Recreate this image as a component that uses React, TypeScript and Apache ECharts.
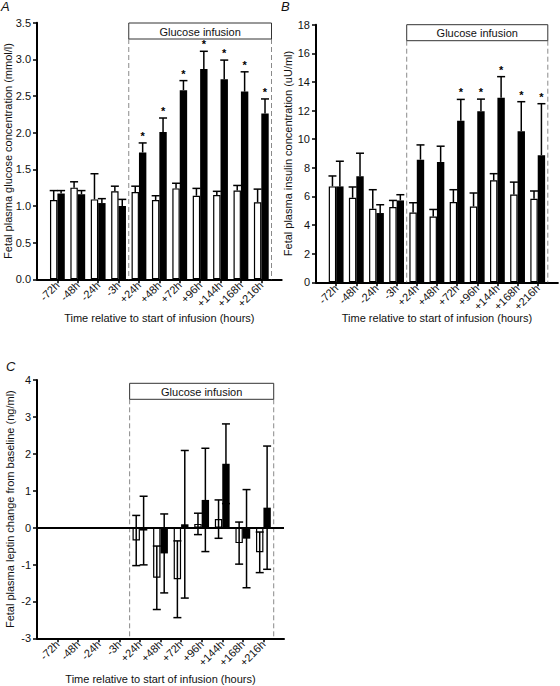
import React, { useEffect, useRef } from 'react';
import * as echarts from 'echarts';

const timeLabels = ['-72h', '-48h', '-24h', '-3h', '+24h', '+48h', '+72h', '+96h', '+144h', '+168h', '+216h'];

// Panel A: glucose (mmol/l)
const glucoseControl = [1.08, 1.25, 1.09, 1.2, 1.19, 1.08, 1.24, 1.14, 1.15, 1.21, 1.05];
const glucoseControlSem = [0.13, 0.08, 0.35, 0.07, 0.08, 0.06, 0.07, 0.1, 0.05, 0.07, 0.18];
const glucoseInfused = [1.17, 1.16, 1.04, 1.0, 1.73, 2.01, 2.58, 2.87, 2.73, 2.56, 2.26];
const glucoseInfusedSem = [0.04, 0.05, 0.06, 0.09, 0.13, 0.19, 0.13, 0.24, 0.26, 0.27, 0.2];
const glucoseStars = [0, 0, 0, 0, 1, 1, 1, 1, 1, 1, 1];

// Panel B: insulin (uU/ml)
const insulinControl = [6.7, 5.91, 5.14, 5.26, 4.88, 4.6, 5.61, 5.3, 7.13, 6.14, 5.84];
const insulinControlSem = [0.73, 0.75, 1.33, 0.46, 0.68, 0.49, 0.86, 0.94, 0.46, 0.86, 0.54];
const insulinInfused = [6.7, 7.41, 4.84, 5.72, 8.57, 8.41, 11.28, 11.96, 12.9, 10.56, 8.88];
const insulinInfusedSem = [1.76, 1.61, 0.58, 0.4, 1.03, 1.1, 1.5, 0.84, 1.47, 2.06, 3.6];
const insulinStars = [0, 0, 0, 0, 0, 0, 1, 1, 1, 1, 1];

// Panel C: leptin change from baseline (ng/ml)
const leptinControl = [null, null, null, null, -0.35, -1.36, -1.4, 0.1, 0.23, -0.42, -0.67];
const leptinControlSem = [null, null, null, null, 0.68, 0.86, 1.04, 0.29, 0.52, 0.57, 0.55];
const leptinInfused = [null, null, null, null, -0.08, -0.7, 0.09, 0.75, 1.73, -0.3, 0.54];
const leptinInfusedSem = [null, null, null, null, 0.93, 1.07, 2.0, 1.4, 1.08, 1.33, 1.67];
const leptinStars = [0, 0, 0, 0, 0, 0, 0, 0, 0, 0, 0];

const yTitles = [
  'Fetal plasma glucose concentration (mmol/l)',
  'Fetal plasma insulin concentration (uU/ml)',
  'Fetal plasma leptin change from baseline (ng/ml)',
];
const xTitle = 'Time relative to start of infusion (hours)';
const boxLabel = 'Glucose infusion';
const panelLetters = ['A', 'B', 'C'];

const FONT = '"Liberation Sans", Arial, Helvetica, sans-serif';
const BAR_W = 7.4;

const padded = (vals: (number | null)[]) => [null, ...vals, null];

const errData = (vals: (number | null)[], sems: (number | null)[], stars: number[]) =>
  vals
    .map((v, i) => (v == null ? null : [i + 1, v, sems[i] ?? 0, stars[i]]))
    .filter((d) => d != null);

const errRender = (offset: number, both: boolean) => (params: any, api: any) => {
  const idx = api.value(0);
  const v = api.value(1);
  const e = api.value(2);
  const star = api.value(3);
  const top = api.coord([idx, v + e]);
  const low = api.coord([idx, both ? v - e : v]);
  const x = top[0] + offset;
  const cap = 8;
  const st = { stroke: '#000', lineWidth: 1.5 };
  const children: any[] = [
    { type: 'line', shape: { x1: x, y1: low[1], x2: x, y2: top[1] }, style: st },
    { type: 'line', shape: { x1: x - cap / 2, y1: top[1], x2: x + cap / 2, y2: top[1] }, style: st },
  ];
  if (both) {
    children.push({ type: 'line', shape: { x1: x - cap / 2, y1: low[1], x2: x + cap / 2, y2: low[1] }, style: st });
  }
  if (star) {
    children.push({
      type: 'text',
      x: x,
      y: top[1] - 1.5,
      style: { text: '*', fill: '#000', font: `bold 11px ${FONT}`, textAlign: 'center', textVerticalAlign: 'bottom' },
    });
  }
  return { type: 'group', children };
};

const makeX = (gridIndex: number, nameGap: number) => ({
  type: 'category',
  gridIndex,
  data: ['', ...timeLabels, ''],
  boundaryGap: false,
  axisLine: { onZero: false, lineStyle: { color: '#000', width: 2 } },
  axisTick: {
    show: true,
    length: 4,
    interval: (i: number) => i > 0 && i < timeLabels.length + 1,
    lineStyle: { color: '#000', width: 1.5 },
  },
  axisLabel: { rotate: 45, interval: 0, fontSize: 11, color: '#111', margin: 4, fontFamily: FONT },
  splitLine: { show: false },
  name: xTitle,
  nameLocation: 'middle',
  nameGap,
  nameMoveOverlap: false,
  nameTextStyle: { fontSize: 11, color: '#111', fontFamily: FONT },
});

const makeY = (gridIndex: number, min: number, max: number, interval: number, name: string, nameGap: number, fmt: (v: number) => string) => ({
  type: 'value',
  gridIndex,
  min,
  max,
  interval,
  axisLine: { show: true, onZero: false, lineStyle: { color: '#000', width: 2 } },
  axisTick: { show: true, length: 4, lineStyle: { color: '#000', width: 1.5 } },
  axisLabel: { fontSize: 11, color: '#111', margin: 6, formatter: fmt, fontFamily: FONT },
  splitLine: { show: false },
  name,
  nameLocation: 'middle',
  nameGap,
  nameMoveOverlap: false,
  nameTextStyle: { fontSize: 11, color: '#111', fontFamily: FONT },
});

const barPair = (gi: number, ctrl: (number | null)[], inf: (number | null)[], extra?: any) => [
  {
    type: 'bar',
    xAxisIndex: gi,
    yAxisIndex: gi,
    data: padded(ctrl),
    barWidth: BAR_W,
    barGap: '0%',
    itemStyle: { color: '#fff', borderColor: '#000', borderWidth: 1.2 },
    silent: true,
  },
  {
    type: 'bar',
    xAxisIndex: gi,
    yAxisIndex: gi,
    data: padded(inf),
    barWidth: BAR_W,
    barGap: '0%',
    itemStyle: { color: '#000' },
    silent: true,
    ...(extra || {}),
  },
];

const errPair = (gi: number, ctrl: any[], ctrlSem: any[], inf: any[], infSem: any[], stars: number[], both: boolean) => [
  {
    type: 'custom',
    xAxisIndex: gi,
    yAxisIndex: gi,
    data: errData(ctrl, ctrlSem, ctrl.map(() => 0)),
    encode: { x: 0, y: 1 },
    renderItem: errRender(-BAR_W / 2, both),
    silent: true,
    z: 5,
  },
  {
    type: 'custom',
    xAxisIndex: gi,
    yAxisIndex: gi,
    data: errData(inf, infSem, stars),
    encode: { x: 0, y: 1 },
    renderItem: errRender(BAR_W / 2, both),
    silent: true,
    z: 5,
  },
];

export default function App() {
  const ref = useRef<HTMLDivElement>(null);

  useEffect(() => {
    if (!ref.current) return;
    const chart = echarts.init(ref.current, undefined, { renderer: 'svg' });
    const yMins = [0, 0, -3];
    const yMaxs = [3.5, 18, 4];
    const option: any = {
      animation: false,
      backgroundColor: '#fff',
      textStyle: { fontFamily: FONT },
      grid: [
        { left: 37, top: 22.7, width: 244.7, height: 256.6 },
        { left: 316, top: 24.7, width: 244, height: 257.6 },
        { left: 37, top: 380, width: 247, height: 258.3 },
      ],
      xAxis: [makeX(0, 33), makeX(1, 30), makeX(2, 35)],
      yAxis: [
        makeY(0, 0, 3.5, 0.5, yTitles[0], 24, (v: number) => v.toFixed(1)),
        makeY(1, 0, 18, 2, yTitles[1], 23, (v: number) => String(v)),
        makeY(2, -3, 4, 1, yTitles[2], 22, (v: number) => String(v)),
      ],
      series: [
        ...barPair(0, glucoseControl, glucoseInfused),
        ...errPair(0, glucoseControl, glucoseControlSem, glucoseInfused, glucoseInfusedSem, glucoseStars, false),
        ...barPair(1, insulinControl, insulinInfused),
        ...errPair(1, insulinControl, insulinControlSem, insulinInfused, insulinInfusedSem, insulinStars, false),
        ...barPair(2, leptinControl, leptinInfused, {
          markLine: {
            silent: true,
            symbol: ['none', 'none'],
            label: { show: false },
            lineStyle: { color: '#000', width: 2, type: 'solid' },
            data: [{ yAxis: 0 }],
          },
        }),
        ...errPair(2, leptinControl, leptinControlSem, leptinInfused, leptinInfusedSem, leptinStars, true),
      ],
    };
    chart.setOption(option);

    const graphics: any[] = [];
    const boxOffsets = [0.3, 0, 3.3];
    const letterPos = [
      [1, 0],
      [281, 0],
      [6, 360],
    ];
    [0, 1, 2].forEach((gi) => {
      const px = (lab: string) => chart.convertToPixel({ xAxisIndex: gi } as any, lab) as unknown as number;
      const xL = (px('-3h') + px('+24h')) / 2;
      const half = (px('+216h') - px('+168h')) / 2;
      const xR = px('+216h') + half;
      const yTop = (chart.convertToPixel({ yAxisIndex: gi } as any, yMaxs[gi]) as unknown as number) + boxOffsets[gi];
      const yBot = chart.convertToPixel({ yAxisIndex: gi } as any, yMins[gi]) as unknown as number;
      const boxH = 16;
      graphics.push(
        {
          type: 'line',
          z: 1,
          shape: { x1: xL, y1: yTop + boxH, x2: xL, y2: yBot },
          style: { stroke: '#8a8a8a', lineWidth: 1, lineDash: [5, 3] },
        },
        {
          type: 'line',
          z: 1,
          shape: { x1: xR, y1: yTop + boxH, x2: xR, y2: yBot },
          style: { stroke: '#8a8a8a', lineWidth: 1, lineDash: [5, 3] },
        },
        {
          type: 'rect',
          z: 10,
          shape: { x: xL, y: yTop, width: xR - xL, height: boxH },
          style: { fill: '#fff', stroke: '#333', lineWidth: 1 },
        },
        {
          type: 'text',
          z: 11,
          x: (xL + xR) / 2,
          y: yTop + boxH / 2 + 0.5,
          style: { text: boxLabel, fill: '#111', font: `11px ${FONT}`, textAlign: 'center', textVerticalAlign: 'middle' },
        },
        {
          type: 'text',
          z: 11,
          x: letterPos[gi][0],
          y: letterPos[gi][1],
          style: { text: panelLetters[gi], fill: '#111', font: `italic 13px ${FONT}`, textAlign: 'left', textVerticalAlign: 'top' },
        }
      );
    });
    chart.setOption({ graphic: graphics });

    return () => chart.dispose();
  }, []);

  return <div ref={ref} style={{ position: 'absolute', left: 0, top: 0, width: 560, height: 686 }} />;
}
